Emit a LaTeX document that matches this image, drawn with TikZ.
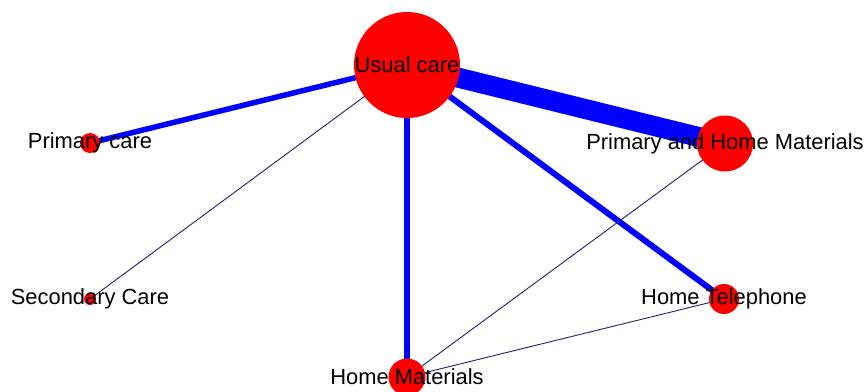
\documentclass[tikz,border=0pt]{standalone}
\usepackage{fontspec}
\setmainfont{Liberation Sans}
\usetikzlibrary{backgrounds}
\definecolor{nodered}{RGB}{255,0,0}
\definecolor{edgeblue}{RGB}{0,0,255}
\definecolor{thinblue}{RGB}{30,30,120}
\begin{document}
\begin{tikzpicture}[x=1pt,y=-1pt,
  dot/.style={circle,fill=nodered,draw=none,inner sep=0pt,minimum size=#1},
  lab/.style={inner sep=0pt,font=\fontsize{21.9}{24}\selectfont,text=black},
  heavy/.style={draw=edgeblue,line width=#1},
  thin/.style={draw=thinblue,line width=0.9pt}]
\useasboundingbox (0,0) rectangle (867,391);
\node[dot=106pt] (uc) at (407,65) {};
\node[dot=20pt] (pc) at (90,143) {};
\node[dot=12pt] (sc) at (90,299) {};
\node[dot=56pt] (phm) at (725,143.5) {};
\node[dot=30pt] (ht) at (724,299) {};
\node[dot=37pt] (hm) at (407,377) {};
\begin{scope}[on background layer]
\draw[heavy=5.5pt] (uc.center) -- (pc.center);
\draw[thin] (uc.center) -- (sc.center);
\draw[heavy=20pt] (uc.center) -- (phm.center);
\draw[heavy=6pt] (uc.center) -- (hm.center);
\draw[heavy=6pt] (uc.center) -- (ht.center);
\draw[thin] (phm.center) -- (hm.center);
\draw[thin] (ht.center) -- (hm.center);
\end{scope}
\node[lab] (uc-l) at (uc.center) {Usual care};
\node[lab] (pc-l) at (pc.center) {Primary care};
\node[lab] (sc-l) at (sc.center) {Secondary Care};
\node[lab] (phm-l) at (phm.center) {Primary and Home Materials};
\node[lab] (ht-l) at (ht.center) {Home Telephone};
\node[lab] (hm-l) at (hm.center) {Home Materials};
\end{tikzpicture}
\end{document}
